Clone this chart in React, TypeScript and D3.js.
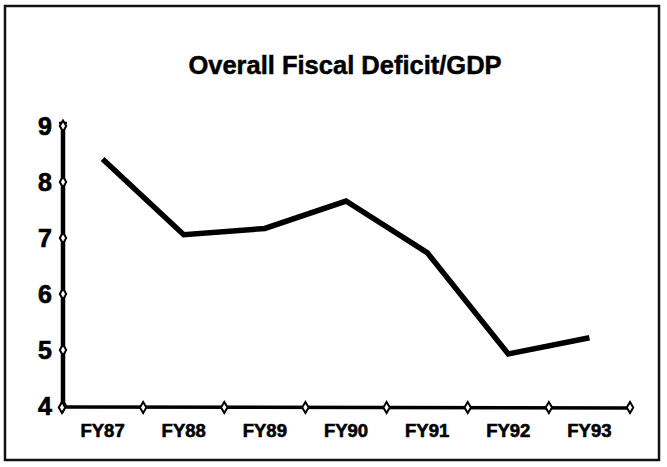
import React from "react";
import * as d3 from "d3";

const categories = ["FY87", "FY88", "FY89", "FY90", "FY91", "FY92", "FY93"];
const deficit = [8.41, 7.06, 7.17, 7.66, 6.74, 4.93, 5.22];
const yTicks = [4, 5, 6, 7, 8, 9];
const title = "Overall Fiscal Deficit/GDP";

const W = 667;
const H = 467;

export default function App() {
  const x = d3.scaleBand<string>().domain(categories).range([62, 630]);
  const y = d3.scaleLinear().domain([4, 9]).range([406, 126]);
  const line = d3
    .line<number>()
    .x((_, i) => (x(categories[i]) as number) + x.bandwidth() / 2)
    .y((d) => y(d));
  const diamond = d3.symbol(d3.symbolDiamond, 36)() as string;
  const xTickPos = categories.map((c) => x(c) as number).concat([x.range()[1]]);
  const font = "'Liberation Sans', Arial, Helvetica, sans-serif";

  return (
    <svg
      width={W}
      height={H}
      style={{ position: "absolute", left: 0, top: 0, background: "#fff" }}
      fontFamily={font}
    >
      <rect x={5} y={6} width={654} height={454} fill="none" stroke="#111" strokeWidth={2.5} />
      <text
        x={345}
        y={74}
        textAnchor="middle"
        fontSize={25.5}
        fontWeight="bold"
        fill="#000"
        stroke="#000"
        strokeWidth={0.5}
      >
        {title}
      </text>
      {/* y axis */}
      <line x1={63} x2={63} y1={y(9) - 3} y2={y(4)} stroke="#000" strokeWidth={4.5} />
      <line x1={59} x2={67} y1={y(9) - 3} y2={y(9) - 3} stroke="#000" strokeWidth={2.5} />
      {yTicks.map((t) => (
        <g key={t}>
          <path d={diamond} transform={`translate(63,${y(t)})`} fill="#fff" stroke="#000" strokeWidth={2} />
          <text
            x={52}
            y={y(t)}
            dy="0.36em"
            textAnchor="end"
            fontSize={25}
            fontWeight="bold"
            fill="#000"
            stroke="#000"
            strokeWidth={0.7}
          >
            {t}
          </text>
        </g>
      ))}
      {/* x axis */}
      <line x1={61} x2={630} y1={y(4) + 1} y2={y(4) + 2} stroke="#000" strokeWidth={3.5} />
      {xTickPos.map((p, i) => (
        <path
          key={i}
          d={diamond}
          transform={`translate(${p},${y(4) + 1.5})`}
          fill="#fff"
          stroke="#000"
          strokeWidth={2}
        />
      ))}
      {categories.map((c) => (
        <text
          key={c}
          x={(x(c) as number) + x.bandwidth() / 2}
          y={437}
          textAnchor="middle"
          fontSize={18.5}
          fontWeight="bold"
          fill="#000"
          stroke="#000"
          strokeWidth={0.6}
        >
          {c}
        </text>
      ))}
      <path d={line(deficit) as string} fill="none" stroke="#000" strokeWidth={5.5} strokeLinejoin="miter" />
    </svg>
  );
}
